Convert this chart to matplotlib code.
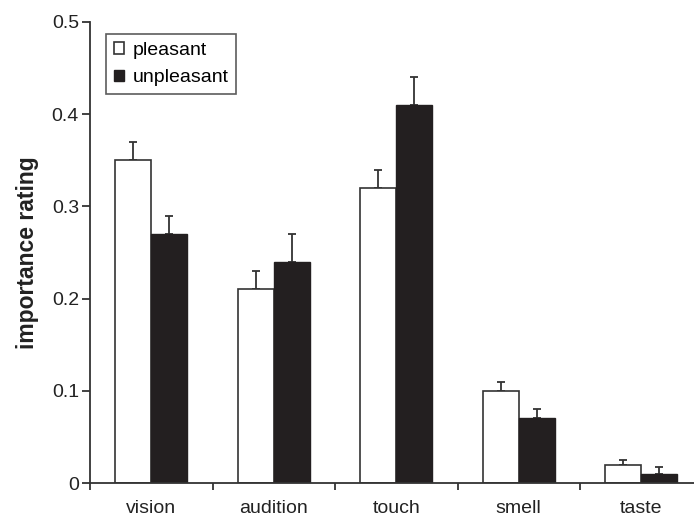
import matplotlib
matplotlib.use("Agg")
import matplotlib.pyplot as plt
import numpy as np

plt.rcParams['font.family'] = ['Liberation Sans', 'DejaVu Sans']

categories = ["vision", "audition", "touch", "smell", "taste"]
pleasant = [0.35, 0.21, 0.32, 0.10, 0.02]
pleasant_err = [0.02, 0.02, 0.02, 0.01, 0.005]
unpleasant = [0.27, 0.24, 0.41, 0.07, 0.01]
unpleasant_err = [0.02, 0.03, 0.03, 0.01, 0.007]
yticks = [0, 0.1, 0.2, 0.3, 0.4, 0.5]
ytick_labels = ["0", "0.1", "0.2", "0.3", "0.4", "0.5"]

W, H = 694, 518
fig = plt.figure(figsize=(W / 100, H / 100), dpi=100)
ax = fig.add_axes([90 / W, (H - 483) / H, (W - 90) / W, (483 - 22) / H])

line_col = "#333333"
dark = "#231f20"
text_col = "#222222"
x = np.arange(len(categories))
bw = 0.294

ax.bar(x - bw / 2, pleasant, bw, color="white", edgecolor=line_col,
       linewidth=1.2, label="pleasant", zorder=2)
ax.bar(x + bw / 2, unpleasant, bw, color=dark, edgecolor=dark,
       linewidth=1.0, label="unpleasant", zorder=2)

ax.errorbar(x - bw / 2, pleasant, yerr=[np.zeros(len(x)), pleasant_err],
            fmt="none", ecolor=line_col, elinewidth=1.3, capsize=3.2,
            capthick=1.3, zorder=1)
ax.errorbar(x + bw / 2, unpleasant, yerr=[np.zeros(len(x)), unpleasant_err],
            fmt="none", ecolor=line_col, elinewidth=1.3, capsize=3.2,
            capthick=1.3, zorder=1)

ax.set_ylim(0, 0.5)
ax.set_xlim(-0.5, -0.5 + (W - 90) / 122.5)
ax.set_yticks(yticks)
ax.set_yticklabels(ytick_labels)
ax.set_xticks(x)
ax.set_xticklabels(categories)
ax.set_xticks(np.arange(len(categories)) - 0.5, minor=True)

for s in ["top", "right"]:
    ax.spines[s].set_visible(False)
for s in ["left", "bottom"]:
    ax.spines[s].set_color(line_col)
    ax.spines[s].set_linewidth(1.3)

ax.tick_params(axis="y", direction="out", length=6, width=1.3,
               color=line_col, labelsize=14, pad=2, labelcolor=text_col)
ax.tick_params(axis="x", which="major", length=0, pad=12,
               labelsize=14, labelcolor=text_col)
ax.tick_params(axis="x", which="minor", direction="out", length=5,
               width=1.3, color=line_col)

ax.set_ylabel("importance rating", fontsize=16.5, fontweight="bold",
              color=text_col, labelpad=9)

leg = ax.legend(loc="upper left", bbox_to_anchor=(16 / (W - 90), (483 - 34) / (483 - 22)),
                borderaxespad=0, frameon=True, fancybox=False, fontsize=14,
                handlelength=0.55, handleheight=0.55, handletextpad=0.4,
                borderpad=0.4, labelspacing=0.55)
leg.get_frame().set_edgecolor(line_col)
leg.get_frame().set_linewidth(1.2)

fig.savefig("out.png", dpi=100)
